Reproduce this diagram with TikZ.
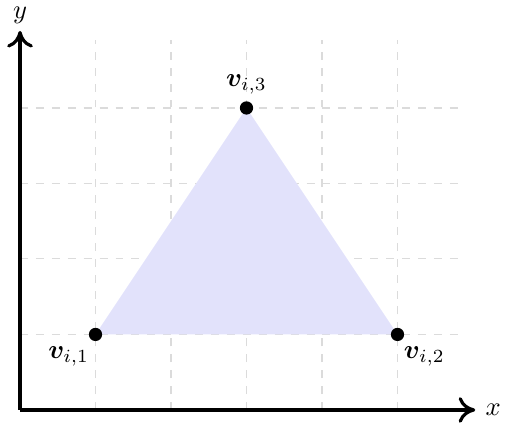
\documentclass[tikz,border=0pt]{standalone}
\usepackage{amsmath,amssymb,bm}
\usetikzlibrary{arrows.meta,positioning}
\definecolor{trifill}{RGB}{226,226,251}
\tikzset{
  gridl/.style={gray!28, dashed, thin},
  axarr/.style={-{To[length=2.2mm,width=3.4mm]}, black, very thick},
  tri/.style={fill=trifill, draw=none},
  vdot/.style={circle, fill=black, inner sep=0pt, minimum size=5pt},
  vlab/.style={font=\normalsize},
}
\begin{document}
\begin{tikzpicture}[x=1cm,y=1cm]
  \useasboundingbox (-0.265,-0.185) rectangle (6.424,5.43);
  \foreach \gx in {1,...,5}{
    \draw[gridl] (\gx,0) -- (\gx,4.9);}
  \foreach \gy in {1,...,4}{
    \draw[gridl] (0,\gy) -- (5.83,\gy);}
  \fill[tri] (1,1) -- (5,1) -- (3,4) -- cycle;
  \coordinate (o) at (0,0);
  \coordinate (xe) at (6.03,0);
  \coordinate (ye) at (0,5.02);
  \draw[axarr] (o) -- (xe) node[right] {$x$};
  \draw[axarr] (o) -- (ye) node[above=-1pt] {$y$};
  \node[vdot] (v1) at (1,1) {};
  \node[vdot] (v2) at (5,1) {};
  \node[vdot] (v3) at (3,4) {};
  \node[vlab, below left=-1pt and -3pt of v1] (l1) {$\bm{v}_{i,1}$};
  \node[vlab, below right=-1pt and -3pt of v2] (l2) {$\bm{v}_{i,2}$};
  \node[vlab, above=-1pt of v3] (l3) {$\bm{v}_{i,3}$};
\end{tikzpicture}
\end{document}
